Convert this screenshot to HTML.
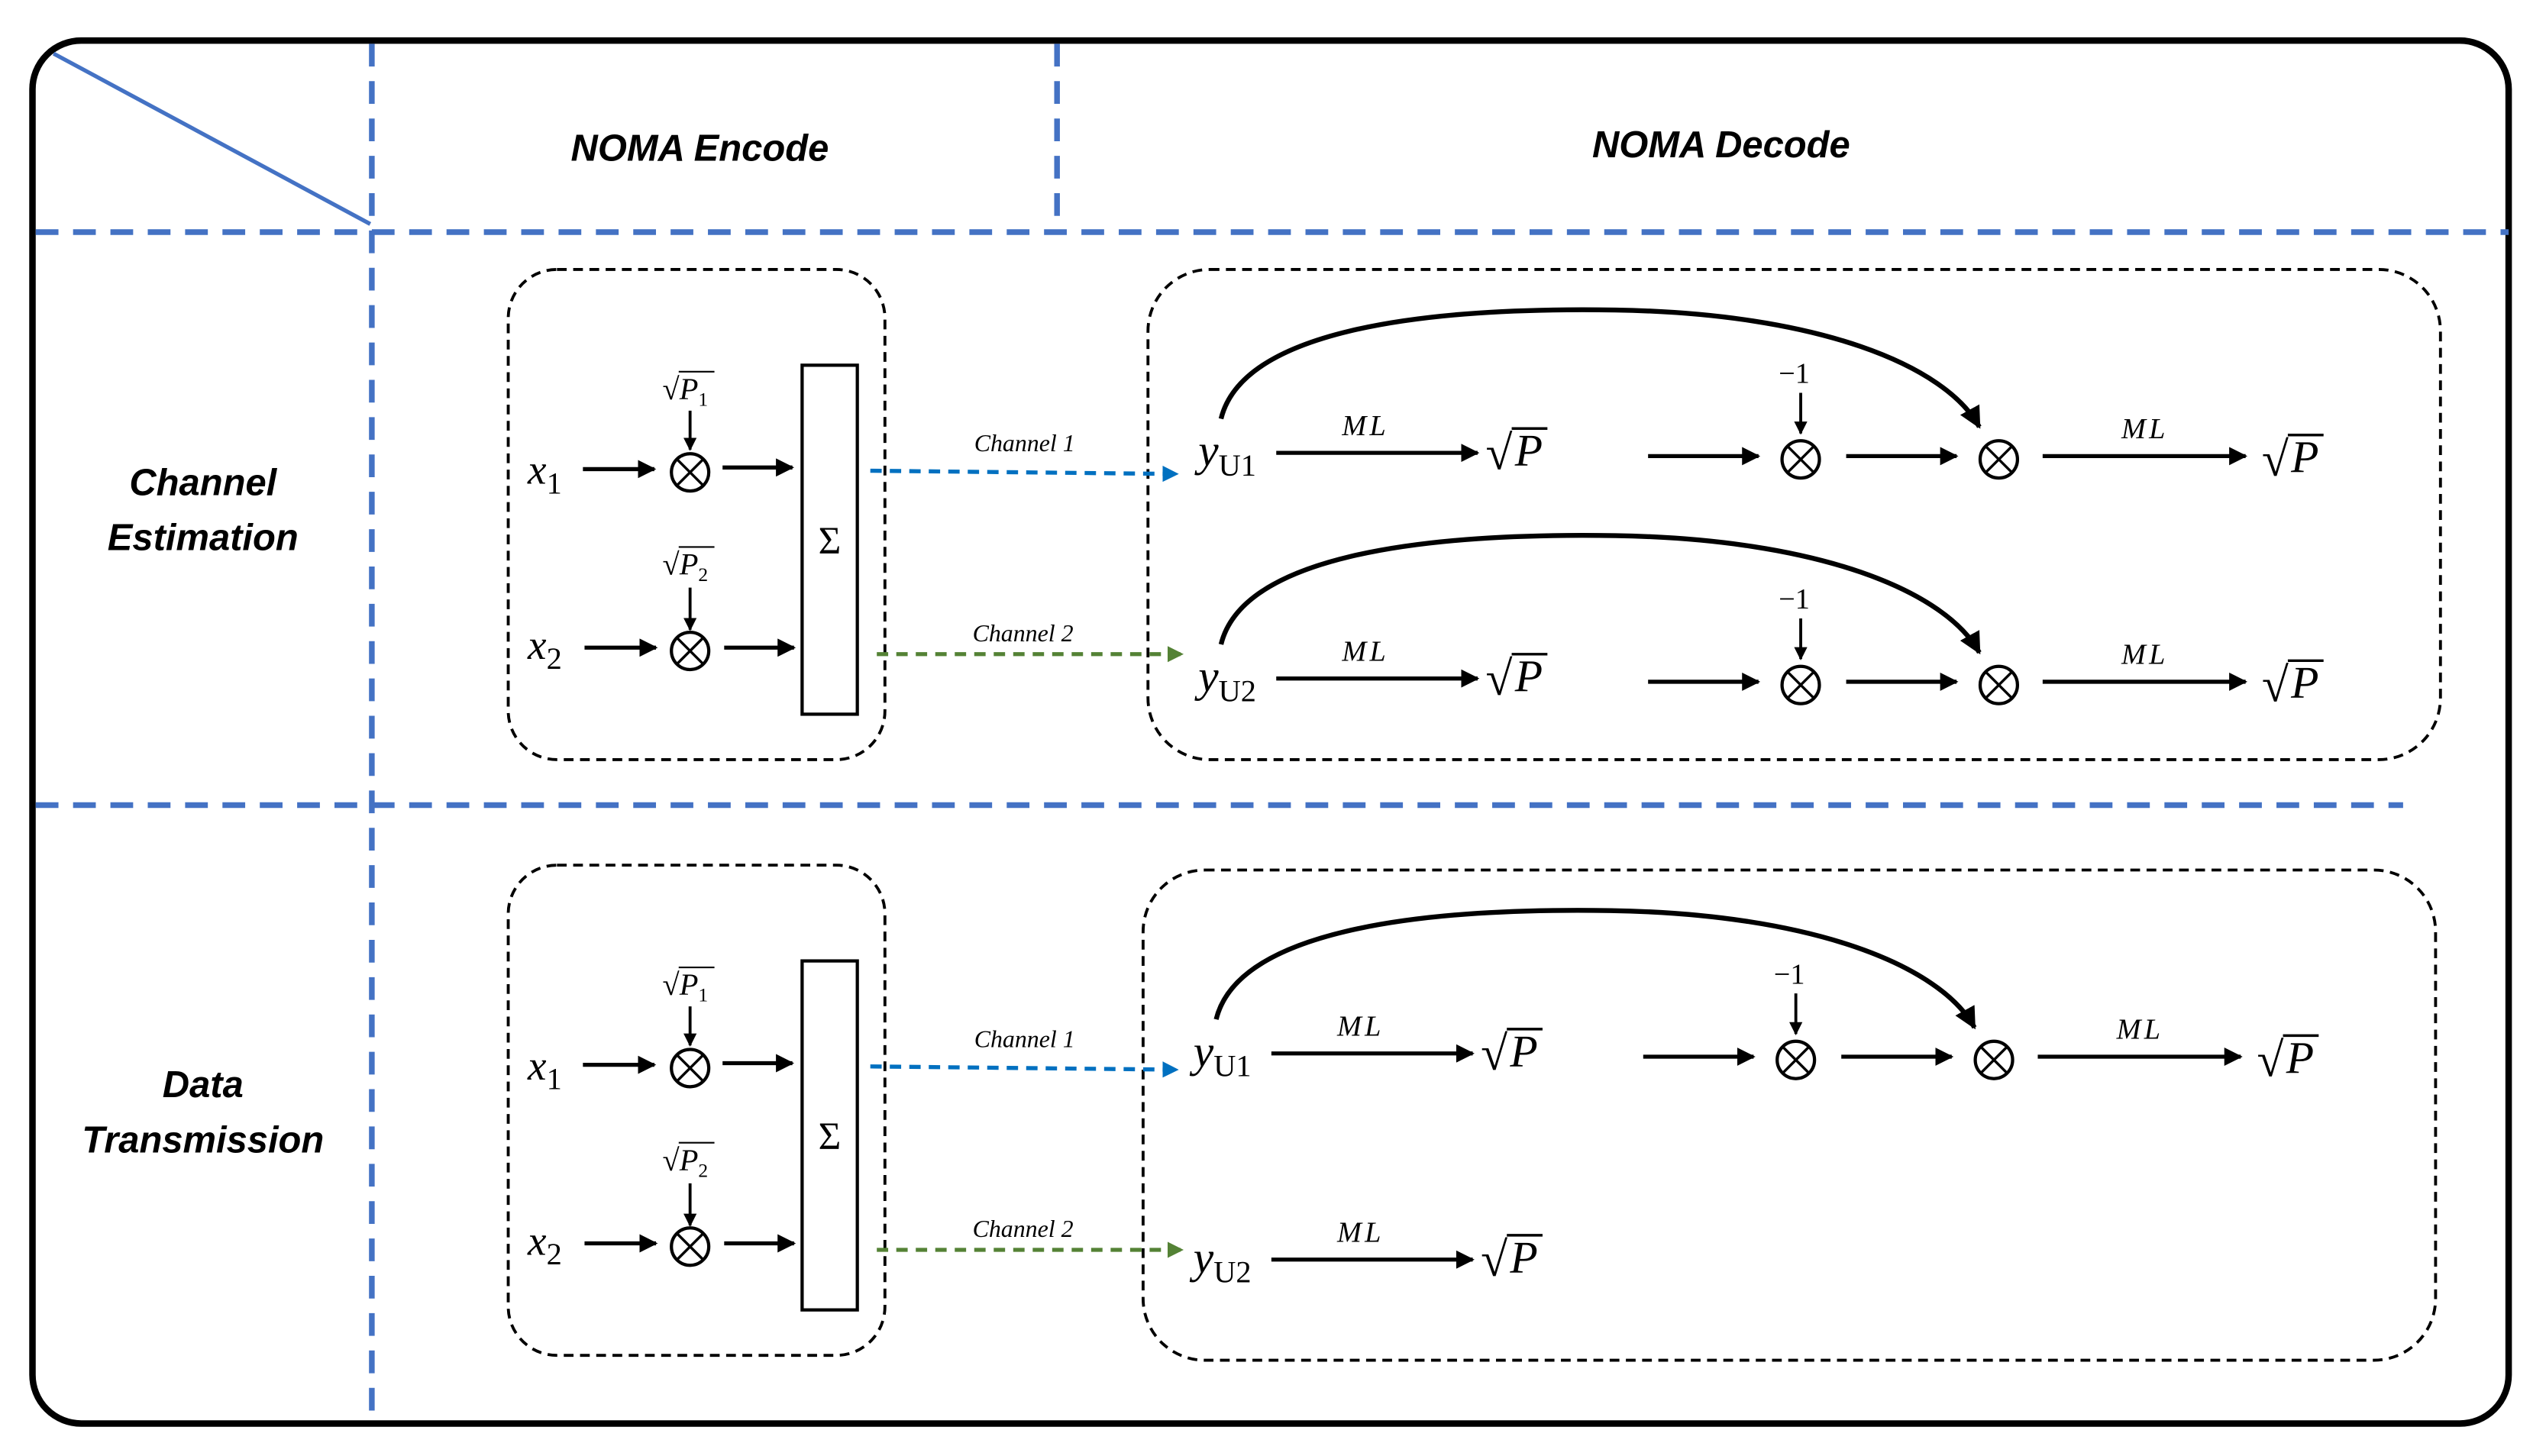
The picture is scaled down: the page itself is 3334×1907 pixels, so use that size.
<!DOCTYPE html>
<html><head><meta charset="utf-8"><style>
html,body{margin:0;padding:0;background:#fff;}
svg{display:block;}
.m{font-family:"Liberation Serif",serif;font-style:italic;}
.r{font-family:"Liberation Serif",serif;}
.h{font-family:"Liberation Sans",sans-serif;font-weight:bold;font-style:italic;}
</style></head><body>
<svg width="3334" height="1907" viewBox="0 0 1568 897" preserveAspectRatio="none" xmlns="http://www.w3.org/2000/svg">
<defs>
<marker id="a" viewBox="0 0 10 10" refX="9" refY="5" markerWidth="4.5" markerHeight="4.5" orient="auto" markerUnits="strokeWidth"><path d="M0,0 L10,5 L0,10 z" fill="#000"/></marker>
<marker id="ab" viewBox="0 0 10 10" refX="9" refY="5" markerWidth="4" markerHeight="4" orient="auto" markerUnits="strokeWidth"><path d="M0,0 L10,5 L0,10 z" fill="#0070C0"/></marker>
<marker id="ag" viewBox="0 0 10 10" refX="9" refY="5" markerWidth="4" markerHeight="4" orient="auto" markerUnits="strokeWidth"><path d="M0,0 L10,5 L0,10 z" fill="#548235"/></marker>
<g id="ot"><circle cx="0" cy="0" r="11.5" fill="#fff" stroke="#000" stroke-width="2"/><path d="M-8,-8 L8,8 M8,-8 L-8,8" stroke="#000" stroke-width="1.6"/></g>
<g id="sp"><text x="0" y="10" class="r" font-size="30">√</text><path d="M16,-15 H38" stroke="#000" stroke-width="1.6"/><text x="18" y="8" class="m" font-size="28">P</text></g>
<g id="enc">
<text x="325" y="298" class="m" font-size="26">x<tspan class="r" font-style="normal" font-size="19" dy="6">1</tspan></text>
<line x1="359" y1="289" x2="403" y2="289" stroke="#000" stroke-width="2.5" marker-end="url(#a)"/>
<use href="#ot" x="425" y="291"/>
<line x1="445" y1="288" x2="488" y2="288" stroke="#000" stroke-width="2.5" marker-end="url(#a)"/>
<text x="408" y="246" class="r" font-size="19">√<tspan class="m">P</tspan><tspan font-size="12" dy="4">1</tspan></text>
<path d="M418,229 H440" stroke="#000" stroke-width="1"/>
<line x1="425" y1="253" x2="425" y2="277" stroke="#000" stroke-width="1.8" marker-end="url(#a)"/>
<text x="325" y="406" class="m" font-size="26">x<tspan class="r" font-style="normal" font-size="19" dy="6">2</tspan></text>
<line x1="360" y1="399" x2="404" y2="399" stroke="#000" stroke-width="2.5" marker-end="url(#a)"/>
<use href="#ot" x="425" y="401"/>
<line x1="446" y1="399" x2="489" y2="399" stroke="#000" stroke-width="2.5" marker-end="url(#a)"/>
<text x="408" y="354" class="r" font-size="19">√<tspan class="m">P</tspan><tspan font-size="12" dy="4">2</tspan></text>
<path d="M418,337 H440" stroke="#000" stroke-width="1"/>
<line x1="425" y1="362" x2="425" y2="388" stroke="#000" stroke-width="1.8" marker-end="url(#a)"/>
<rect x="494" y="225" width="34" height="215" fill="none" stroke="#000" stroke-width="2"/>
<text x="511" y="341" class="r" font-size="24" text-anchor="middle">Σ</text>
<text x="631" y="278" class="m" font-size="15" text-anchor="middle">Channel 1</text>
<line x1="536" y1="290" x2="725" y2="292" stroke="#0070C0" stroke-width="2.5" stroke-dasharray="7,5" marker-end="url(#ab)"/>
<text x="630" y="395" class="m" font-size="15" text-anchor="middle">Channel 2</text>
<line x1="540" y1="403" x2="728" y2="403" stroke="#548235" stroke-width="2.5" stroke-dasharray="7,5" marker-end="url(#ag)"/>
</g>
<g id="head">
<text x="738" y="287" class="m" font-size="28">y<tspan class="r" font-style="normal" font-size="19" dy="6">U1</tspan></text>
<line x1="786" y1="279" x2="910" y2="279" stroke="#000" stroke-width="2.5" marker-end="url(#a)"/>
<text x="841" y="268" class="m" font-size="18" text-anchor="middle" letter-spacing="2">ML</text>
<use href="#sp" x="915" y="279"/>
</g>
<g id="tail">
<path d="M752,258 C765,205 870,189 995,191 C1120,193 1198,225 1219,263" fill="none" stroke="#000" stroke-width="3" marker-end="url(#a)"/>
<line x1="1015" y1="281" x2="1083" y2="281" stroke="#000" stroke-width="2.5" marker-end="url(#a)"/>
<use href="#ot" x="1109" y="283"/>
<text x="1105" y="236" class="r" font-size="18" text-anchor="middle">−1</text>
<line x1="1109" y1="242" x2="1109" y2="267" stroke="#000" stroke-width="1.8" marker-end="url(#a)"/>
<line x1="1137" y1="281" x2="1205" y2="281" stroke="#000" stroke-width="2.5" marker-end="url(#a)"/>
<use href="#ot" x="1231" y="283"/>
<line x1="1258" y1="281" x2="1383" y2="281" stroke="#000" stroke-width="2.5" marker-end="url(#a)"/>
<text x="1321" y="270" class="m" font-size="18" text-anchor="middle" letter-spacing="2">ML</text>
<use href="#sp" x="1393" y="283"/>
</g>
</defs>

<rect x="20" y="25" width="1525" height="852" rx="30" ry="30" fill="#fff" stroke="#000" stroke-width="4"/>
<line x1="33" y1="33" x2="228" y2="138" stroke="#4472C4" stroke-width="2.5"/>
<g stroke="#4472C4" stroke-width="3.5" stroke-dasharray="14,9" fill="none">
<line x1="229" y1="27" x2="229" y2="875"/>
<line x1="651" y1="27" x2="651" y2="140"/>
<line x1="22" y1="143" x2="1545" y2="143"/>
<line x1="22" y1="496" x2="1480" y2="496"/>
</g>
<text x="431" y="99" class="h" font-size="23" text-anchor="middle">NOMA Encode</text>
<text x="1060" y="97" class="h" font-size="23" text-anchor="middle">NOMA Decode</text>
<text x="125" y="305" class="h" font-size="23" text-anchor="middle">Channel</text>
<text x="125" y="339" class="h" font-size="23" text-anchor="middle">Estimation</text>
<text x="125" y="676" class="h" font-size="23" text-anchor="middle">Data</text>
<text x="125" y="710" class="h" font-size="23" text-anchor="middle">Transmission</text>

<g fill="none" stroke="#000" stroke-width="1.8" stroke-dasharray="6,4">
<rect x="313" y="166" width="232" height="302" rx="30"/>
<rect x="313" y="533" width="232" height="302" rx="30"/>
<rect x="707" y="166" width="796" height="302" rx="38"/>
<rect x="704" y="536" width="796" height="302" rx="38"/>
</g>

<use href="#enc"/>
<use href="#enc" y="367"/>

<use href="#head"/><use href="#tail"/>
<g transform="translate(0,139)">
<text x="738" y="287" class="m" font-size="28">y<tspan class="r" font-style="normal" font-size="19" dy="6">U2</tspan></text>
<line x1="786" y1="279" x2="910" y2="279" stroke="#000" stroke-width="2.5" marker-end="url(#a)"/>
<text x="841" y="268" class="m" font-size="18" text-anchor="middle" letter-spacing="2">ML</text>
<use href="#sp" x="915" y="279"/>
<use href="#tail"/>
</g>
<g transform="translate(-3,370)"><use href="#head"/><use href="#tail"/></g>
<g transform="translate(-3,497)">
<text x="738" y="287" class="m" font-size="28">y<tspan class="r" font-style="normal" font-size="19" dy="6">U2</tspan></text>
<line x1="786" y1="279" x2="910" y2="279" stroke="#000" stroke-width="2.5" marker-end="url(#a)"/>
<text x="841" y="268" class="m" font-size="18" text-anchor="middle" letter-spacing="2">ML</text>
<use href="#sp" x="915" y="279"/>
</g>
</svg>
</body></html>
